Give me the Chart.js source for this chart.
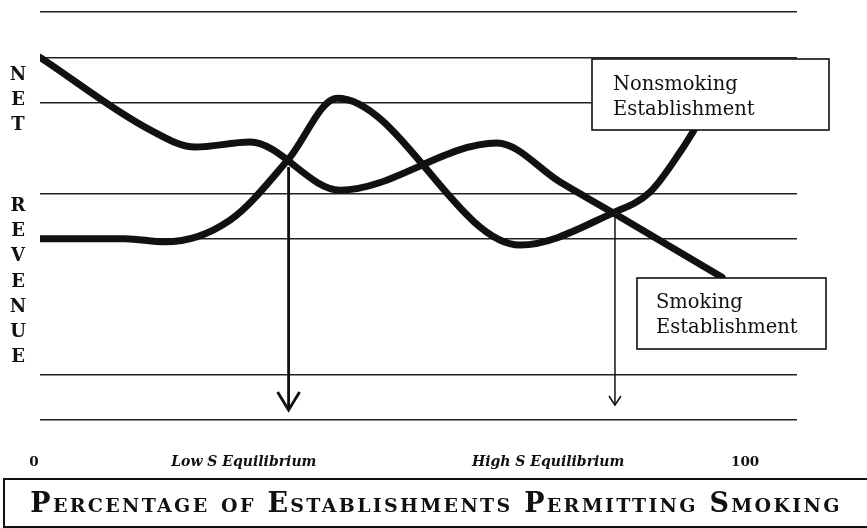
<!DOCTYPE html>
<html>
<head>
<meta charset="utf-8">
<script src="https://cdn.jsdelivr.net/npm/chart.js@4.4.1/dist/chart.umd.min.js"></script>
<style>
  body { margin: 0; background: #fff; }
  .wrap { position: relative; width: 867px; height: 528px; overflow: hidden; background: #fff; }
  #revenueChart { position: absolute; left: 0; top: 0; }
  .x-title {
    position: absolute; left: 3px; top: 478px; width: 880px; height: 50px;
    box-sizing: border-box; border: 2px solid #111; border-right: none;
    font-family: "DejaVu Serif"; font-weight: bold; font-variant: small-caps;
    font-size: 27px; letter-spacing: 2.3px; line-height: 46px; color: #111;
  }
  .x-title span { display: block; width: 862px; text-align: center; }
</style>
</head>
<body>
<div class="wrap">
  <canvas id="revenueChart" width="867" height="528"></canvas>
  <div class="x-title"><span id="xTitle"></span></div>
</div>
<script>
  // x = percentage of establishments permitting smoking, y = net revenue (relative units)
  const seriesNames = ["Smoking Establishment", "Nonsmoking Establishment"];

  const smokingX = [0.84, 16.32, 22.64, 30.38, 43.04, 65.12, 73.98, 81.43, 96.76];
  const smokingY = [8.0, 6.4, 6.02, 6.13, 5.07, 6.11, 5.25, 4.57, 3.15];

  const nonsmokingX = [0.84, 12.8, 18.42, 27.57, 35.72, 42.62, 68.35, 81.43, 86.64, 90.86, 94.37];
  const nonsmokingY = [4.0, 4.0, 3.93, 4.41, 5.74, 7.1, 3.86, 4.57, 5.03, 5.91, 6.79];

  // equilibrium arrows: Low S, High S
  const equilibriumX = [35.8, 81.7];
  const arrowFromY = [5.58, 4.5];
  const arrowToY = [0.22, 0.33];

  const xTickValues = [0, 29.5, 72.3, 100];
  const xTickLabels = ["0", "Low S Equilibrium", "High S Equilibrium", "100"];
  const yAxisWords = ["NET", "REVENUE"];
  const hiddenGridRows = [2, 3, 6];
  const xAxisTitle = "Percentage of Establishments Permitting Smoking";

  document.getElementById("xTitle").textContent = xAxisTitle;

  const toPoints = (xs, ys) => xs.map((x, i) => ({ x: x, y: ys[i] }));
  const ink = "#111";

  const curveStyle = {
    borderColor: ink, borderWidth: 7, pointRadius: 0, fill: false,
    cubicInterpolationMode: "monotone", borderCapStyle: "round", borderJoinStyle: "round",
  };
  const arrowStyle = { borderColor: ink, pointRadius: 0, fill: false, tension: 0 };

  // label boxes in pixels (layout only)
  const labelBoxes = [
    { series: 1, left: 592, top: 59, width: 237, height: 71, textLeft: 613, firstLine: 85 },
    { series: 0, left: 637, top: 278, width: 189, height: 71, textLeft: 656, firstLine: 303 },
  ];

  const sketchPlugin = {
    id: "sketch",
    afterDatasetsDraw(chart) {
      const ctx = chart.ctx;
      chart.data.datasets.forEach((ds, i) => {
        if (!ds.arrowHead) return;
        const pts = chart.getDatasetMeta(i).data;
        const tip = pts[pts.length - 1];
        ctx.save();
        ctx.strokeStyle = ds.borderColor;
        ctx.lineWidth = ds.borderWidth;
        ctx.beginPath();
        ctx.moveTo(tip.x - ds.arrowHead.half, tip.y - ds.arrowHead.length);
        ctx.lineTo(tip.x, tip.y);
        ctx.lineTo(tip.x + ds.arrowHead.half, tip.y - ds.arrowHead.length);
        ctx.stroke();
        ctx.restore();
      });

      labelBoxes.forEach(b => {
        ctx.save();
        ctx.fillStyle = "#fff";
        ctx.fillRect(b.left, b.top, b.width, b.height);
        ctx.strokeStyle = ink;
        ctx.lineWidth = 1.6;
        ctx.strokeRect(b.left, b.top, b.width, b.height);
        ctx.fillStyle = ink;
        ctx.font = "19.5px 'DejaVu Serif'";
        ctx.textBaseline = "middle";
        seriesNames[b.series].split(" ").forEach((word, k) => {
          ctx.fillText(word, b.textLeft, b.firstLine + k * 25);
        });
        ctx.restore();
      });
    },
    afterDraw(chart) {
      const ctx = chart.ctx;
      ctx.save();
      ctx.fillStyle = ink;
      ctx.font = "bold 18px 'DejaVu Serif'";
      ctx.textAlign = "center";
      ctx.textBaseline = "middle";
      const wordTops = [75, 206];
      yAxisWords.forEach((word, w) => {
        word.split("").forEach((ch, k) => {
          ctx.fillText(ch, 18, wordTops[w] + k * 25.3);
        });
      });
      ctx.restore();
    },
  };

  new Chart(document.getElementById("revenueChart"), {
    type: "line",
    data: {
      datasets: [
        Object.assign({ label: seriesNames[0], data: toPoints(smokingX, smokingY) }, curveStyle),
        Object.assign({ label: seriesNames[1], data: toPoints(nonsmokingX, nonsmokingY) }, curveStyle),
        Object.assign({
          label: xTickLabels[1],
          data: [{ x: equilibriumX[0], y: arrowFromY[0] }, { x: equilibriumX[0], y: arrowToY[0] }],
          borderWidth: 2.8, arrowHead: { half: 11, length: 18 },
        }, arrowStyle),
        Object.assign({
          label: xTickLabels[2],
          data: [{ x: equilibriumX[1], y: arrowFromY[1] }, { x: equilibriumX[1], y: arrowToY[1] }],
          borderWidth: 1.5, arrowHead: { half: 6, length: 9 },
        }, arrowStyle),
      ],
    },
    options: {
      responsive: false,
      animation: false,
      layout: { padding: { left: 40, right: 70, top: 12, bottom: 0 } },
      plugins: { legend: { display: false }, tooltip: { enabled: false } },
      scales: {
        x: {
          type: "linear", min: 0.84, max: 107.3,
          afterBuildTicks: s => { s.ticks = xTickValues.map(v => ({ value: v })); },
          afterFit: s => { s.height = 108; },
          grid: { display: false },
          border: { display: false },
          ticks: {
            autoSkip: false, maxRotation: 0, padding: 26, color: ink,
            callback: (v, i) => xTickLabels[i],
            font: c => (c.index === 1 || c.index === 2)
              ? { family: "DejaVu Serif", size: 14, style: "italic", weight: "bold" }
              : { family: "DejaVu Serif", size: 13.5, weight: "bold" },
          },
        },
        y: {
          min: 0, max: 9,
          afterFit: s => { s.width = 0; },
          ticks: { display: false, stepSize: 1 },
          border: { display: false },
          grid: {
            drawTicks: false, lineWidth: 1.4,
            color: c => hiddenGridRows.includes(c.tick.value) ? "rgba(0,0,0,0)" : "#222",
          },
        },
      },
    },
    plugins: [sketchPlugin],
  });
</script>
</body>
</html>
